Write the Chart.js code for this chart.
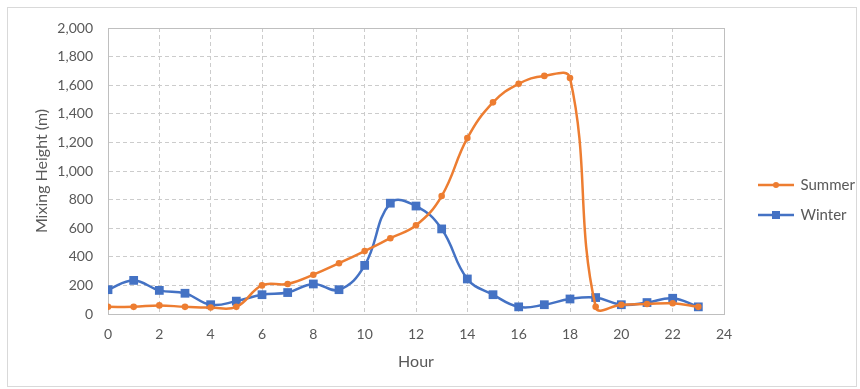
<!DOCTYPE html>
<html>
<head>
<meta charset="utf-8">
<script src="https://cdn.jsdelivr.net/npm/chart.js"></script>
<style>
  html, body { margin: 0; padding: 0; background: #fff; }
  #wrap { position: relative; width: 860px; height: 389px; }
  #frame { position: absolute; left: 7px; top: 7px; width: 850px; height: 380px; border: 1px solid #d9d9d9; box-sizing: border-box; pointer-events: none; }
</style>
</head>
<body>
<div id="wrap">
  <canvas id="chartMixing" width="860" height="389"></canvas>
  <div id="frame"></div>
</div>
<script>
// Hourly mixing height (m)
const hours = [0, 1, 2, 3, 4, 5, 6, 7, 8, 9, 10, 11, 12, 13, 14, 15, 16, 17, 18, 19, 20, 21, 22, 23];
const summer = [50, 50, 60, 50, 45, 50, 200, 210, 275, 355, 440, 530, 620, 825, 1230, 1480, 1610, 1665, 1650, 50, 65, 70, 75, 50];
const winter = [170, 235, 165, 145, 65, 90, 135, 150, 210, 170, 340, 775, 755, 595, 245, 135, 50, 65, 105, 115, 65, 80, 110, 50];
const seriesNames = ['Summer', 'Winter'];
const xTicks = { min: 0, max: 24, step: 2 };
const yTicks = { min: 0, max: 2000, step: 200 };

const ORANGE = '#ED7D31';
const BLUE = '#4472C4';
const FONT = 'Lato, "Open Sans", sans-serif';

function toPoints(values) {
    return hours.map((h, i) => ({ x: h, y: values[i] }));
}

// small line+marker icon for the legend
function legendIcon(color, square) {
    const c = document.createElement('canvas');
    c.width = 56; c.height = 12;
    const g = c.getContext('2d');
    g.strokeStyle = color;
    g.lineWidth = 2.5;
    g.beginPath(); g.moveTo(20, 6); g.lineTo(56, 6); g.stroke();
    g.fillStyle = color;
    if (square) {
        g.fillRect(34, 2, 8, 8);
    } else {
        g.beginPath(); g.arc(38, 6, 3, 0, Math.PI * 2); g.fill();
    }
    return c;
}
const icons = [legendIcon(ORANGE, false), legendIcon(BLUE, true)];

// solid frame round the plot area
const plotFrame = {
    id: 'plotFrame',
    beforeDatasetsDraw(chart) {
        const a = chart.chartArea;
        const ctx = chart.ctx;
        ctx.save();
        ctx.strokeStyle = '#bfbfbf';
        ctx.lineWidth = 1;
        ctx.strokeRect(Math.round(a.left) + 0.5, Math.round(a.top) + 0.5, Math.round(a.right - a.left), Math.round(a.bottom - a.top));
        ctx.restore();
    }
};

new Chart(document.getElementById('chartMixing').getContext('2d'), {
    type: 'line',
    data: {
        datasets: [{
            label: seriesNames[0],
            data: toPoints(summer),
            borderColor: ORANGE,
            backgroundColor: ORANGE,
            borderWidth: 2.5,
            pointStyle: 'circle',
            pointRadius: 3.3,
            pointBorderWidth: 0,
            tension: 0.42,
            fill: false
        }, {
            label: seriesNames[1],
            data: toPoints(winter),
            borderColor: BLUE,
            backgroundColor: BLUE,
            borderWidth: 2.5,
            pointStyle: 'rect',
            pointRadius: 6.2,
            pointBorderWidth: 0,
            tension: 0.42,
            fill: false
        }]
    },
    options: {
        responsive: false,
        animation: false,
        events: [],
        elements: { line: { capBezierPoints: false } },
        layout: { padding: { left: 0, top: 28, right: 0, bottom: 17 } },
        plugins: {
            tooltip: { enabled: false },
            legend: {
                position: 'right',
                align: 'center',
                maxWidth: 136,
                labels: {
                    usePointStyle: true,
                    pointStyleWidth: 54,
                    padding: 15,
                    color: '#595959',
                    font: { family: FONT, size: 15 },
                    generateLabels(chart) {
                        return chart.data.datasets.map((ds, i) => ({
                            text: ds.label,
                            fillStyle: ds.borderColor,
                            strokeStyle: ds.borderColor,
                            fontColor: '#595959',
                            lineWidth: 0,
                            pointStyle: icons[i],
                            datasetIndex: i,
                            hidden: false
                        }));
                    }
                }
            }
        },
        scales: {
            x: {
                type: 'linear',
                min: xTicks.min,
                max: xTicks.max,
                afterFit(scale) { scale.height = 58; },
                ticks: { stepSize: xTicks.step, padding: 12, color: '#595959', font: { family: FONT, size: 14 } },
                grid: { color: '#cccccc', drawTicks: false },
                border: { color: '#bfbfbf', width: 1, dash: [4, 3] },
                title: { display: true, text: 'Hour', color: '#595959', font: { family: FONT, size: 16 }, padding: { top: 0, bottom: 1 } }
            },
            y: {
                min: yTicks.min,
                max: yTicks.max,
                afterFit(scale) { scale.width = 108; },
                ticks: { stepSize: yTicks.step, padding: 15, color: '#595959', font: { family: FONT, size: 14 } },
                grid: { color: '#cccccc', drawTicks: false },
                border: { color: '#bfbfbf', width: 1, dash: [4, 3] },
                title: { display: true, text: 'Mixing Height (m)', color: '#595959', font: { family: FONT, size: 16 }, padding: { top: 32, bottom: 0 } }
            }
        }
    },
    plugins: [plotFrame]
});
</script>
</body>
</html>
